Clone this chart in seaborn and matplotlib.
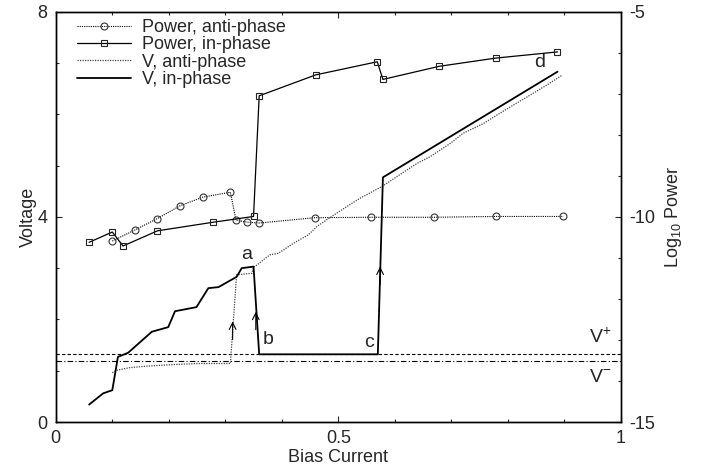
import matplotlib
matplotlib.use("Agg")
import matplotlib.pyplot as plt
from matplotlib.ticker import MultipleLocator
import seaborn as sns
import pandas as pd

# Log10 power, anti-phase branch
bias_pa = [0.100, 0.140, 0.180, 0.220, 0.260, 0.309, 0.319, 0.339, 0.360,
           0.459, 0.558, 0.669, 0.779, 0.898]
logp_pa = [-10.59, -10.32, -10.04, -9.73, -9.52, -9.40, -10.08, -10.13, -10.15,
           -10.02, -10.01, -10.01, -9.99, -9.99]

# Log10 power, in-phase branch
bias_pi = [0.059, 0.100, 0.119, 0.180, 0.279, 0.350, 0.360, 0.460, 0.569,
           0.579, 0.679, 0.779, 0.888]
logp_pi = [-10.62, -10.37, -10.71, -10.34, -10.13, -9.99, -7.05, -6.54, -6.22,
           -6.65, -6.33, -6.13, -5.98]

# Voltage, in-phase branch
bias_vi = [0.059, 0.084, 0.100, 0.110, 0.128, 0.170, 0.199, 0.211, 0.249,
           0.270, 0.288, 0.320, 0.329, 0.350, 0.360, 0.570, 0.579, 0.888]
v_vi = [0.34, 0.56, 0.62, 1.27, 1.35, 1.76, 1.85, 2.16, 2.24,
        2.61, 2.63, 2.83, 3.00, 3.03, 1.32, 1.32, 4.77, 6.83]

# Voltage, anti-phase branch
bias_va = [0.100, 0.108, 0.131, 0.161, 0.208, 0.249, 0.309, 0.320, 0.347,
           0.350, 0.356, 0.367, 0.379, 0.394, 0.420, 0.447, 0.462, 0.479,
           0.497, 0.515, 0.538, 0.577, 0.603, 0.639, 0.662, 0.698, 0.721,
           0.757, 0.780, 0.810, 0.839, 0.869, 0.896]
v_va = [0.96, 1.01, 1.06, 1.09, 1.12, 1.14, 1.14, 2.87, 2.90,
        3.02, 3.06, 3.16, 3.26, 3.29, 3.48, 3.65, 3.81, 3.94,
        4.07, 4.20, 4.36, 4.59, 4.78, 5.04, 5.17, 5.43, 5.63,
        5.82, 5.98, 6.18, 6.37, 6.57, 6.76]

# Threshold voltages
v_plus = 1.32
v_minus = 1.18

# Branch labels: (text, bias, voltage)
point_labels = [("a", 0.338, 3.26), ("b", 0.376, 1.60),
                ("c", 0.555, 1.56), ("d", 0.857, 7.00)]
# Arrow tips along the jumps: (bias, voltage)
arrow_tips = [(0.313, 1.96), (0.354, 2.15), (0.574, 3.03)]

FS = 13

sns.set_style("ticks")
plt.rcParams["font.family"] = ["Liberation Sans", "DejaVu Sans"]
plt.rcParams["font.size"] = FS
plt.rcParams["mathtext.fontset"] = "custom"
plt.rcParams["mathtext.rm"] = "Liberation Sans"

fig = plt.figure(figsize=(7.08, 4.72), dpi=100)
ax = fig.add_axes([0.0788, 0.1059, 0.7980, 0.8693])
ax2 = ax.twinx()

df_vi = pd.DataFrame({"bias": bias_vi, "v": v_vi})
df_va = pd.DataFrame({"bias": bias_va, "v": v_va})
df_pa = pd.DataFrame({"bias": bias_pa, "p": logp_pa})
df_pi = pd.DataFrame({"bias": bias_pi, "p": logp_pi})

ax.axhline(v_plus, color="black", lw=0.8, ls=(0, (3, 2)))
ax.axhline(v_minus, color="black", lw=0.8, ls=(0, (5, 2, 1, 2)))

sns.lineplot(data=df_va, x="bias", y="v", ax=ax, sort=False, estimator=None,
             color="#444444", lw=0.9, ls=(0, (1, 1)))
sns.lineplot(data=df_vi, x="bias", y="v", ax=ax, sort=False, estimator=None,
             color="black", lw=1.3)

sns.lineplot(data=df_pa, x="bias", y="p", ax=ax2, sort=False, estimator=None,
             color="black", lw=0.8, ls=(0, (1, 1)), marker="o", markersize=5,
             markerfacecolor="none", markeredgecolor="#333333", markeredgewidth=0.8)
sns.lineplot(data=df_pi, x="bias", y="p", ax=ax2, sort=False, estimator=None,
             color="black", lw=0.9, marker="s", markersize=5,
             markerfacecolor="none", markeredgecolor="#222222", markeredgewidth=0.8)

for bx, vy in arrow_tips:
    ax.annotate("", xy=(bx, vy), xytext=(bx, vy - 0.35),
                arrowprops=dict(arrowstyle="->", lw=0.8, color="black",
                                mutation_scale=12, shrinkA=0, shrinkB=0))

for txt, bx, vy in point_labels:
    ax.text(bx, vy, txt, ha="center", va="center", fontsize=FS + 1)
ax.text(0.963, 1.66, "V$^{+}$", ha="center", va="center", fontsize=FS + 1)
ax.text(0.963, 0.86, "V$^{-}$", ha="center", va="center", fontsize=FS + 1)

ax.set_xlim(0, 1)
ax.set_ylim(0, 8)
ax2.set_ylim(-15, -5)

ax.xaxis.set_major_locator(MultipleLocator(0.5))
ax.xaxis.set_minor_locator(MultipleLocator(0.1))
ax.yaxis.set_major_locator(MultipleLocator(4))
ax.yaxis.set_minor_locator(MultipleLocator(1))
ax2.yaxis.set_major_locator(MultipleLocator(5))
ax2.yaxis.set_minor_locator(MultipleLocator(1))
ax.set_xticks([0, 0.5, 1])
ax.set_xticklabels(["0", "0.5", "1"])
ax.set_yticks([0, 4, 8])
ax.set_yticklabels(["0", "4", "8"])
ax2.set_yticks([-15, -10, -5])
ax2.set_yticklabels(["-15", "-10", "-5"])

ax.tick_params(which="both", direction="in", top=True, right=False,
               labelsize=FS, width=0.8, pad=6)
ax.tick_params(which="major", length=4.5)
ax.tick_params(which="minor", length=2.5)
ax2.tick_params(which="both", direction="in", labelsize=FS, width=0.8, pad=6)
ax2.tick_params(which="major", length=4.5)
ax2.tick_params(which="minor", length=2.5)

for a in (ax, ax2):
    for s in a.spines.values():
        s.set_visible(True)
        s.set_linewidth(1.0)
        s.set_color("black")

ax.set_xlabel("Bias Current", fontsize=FS, labelpad=1)
ax.set_ylabel("Voltage", fontsize=FS, labelpad=0)
ax2.set_ylabel("Log$_{10}$ Power", fontsize=FS, labelpad=6)

h_pa = ax2.lines[0]
h_pi = ax2.lines[1]
h_va = ax.lines[2]
h_vi = ax.lines[3]
ax2.legend([h_pa, h_pi, h_va, h_vi],
           ["Power, anti-phase", "Power, in-phase", "V, anti-phase", "V, in-phase"],
           loc="upper left", frameon=False, fontsize=FS, handlelength=3.0,
           handletextpad=0.6, labelspacing=0.02, borderaxespad=0.0,
           bbox_to_anchor=(0.025, 1.0))

fig.savefig("out.png", dpi=100)
